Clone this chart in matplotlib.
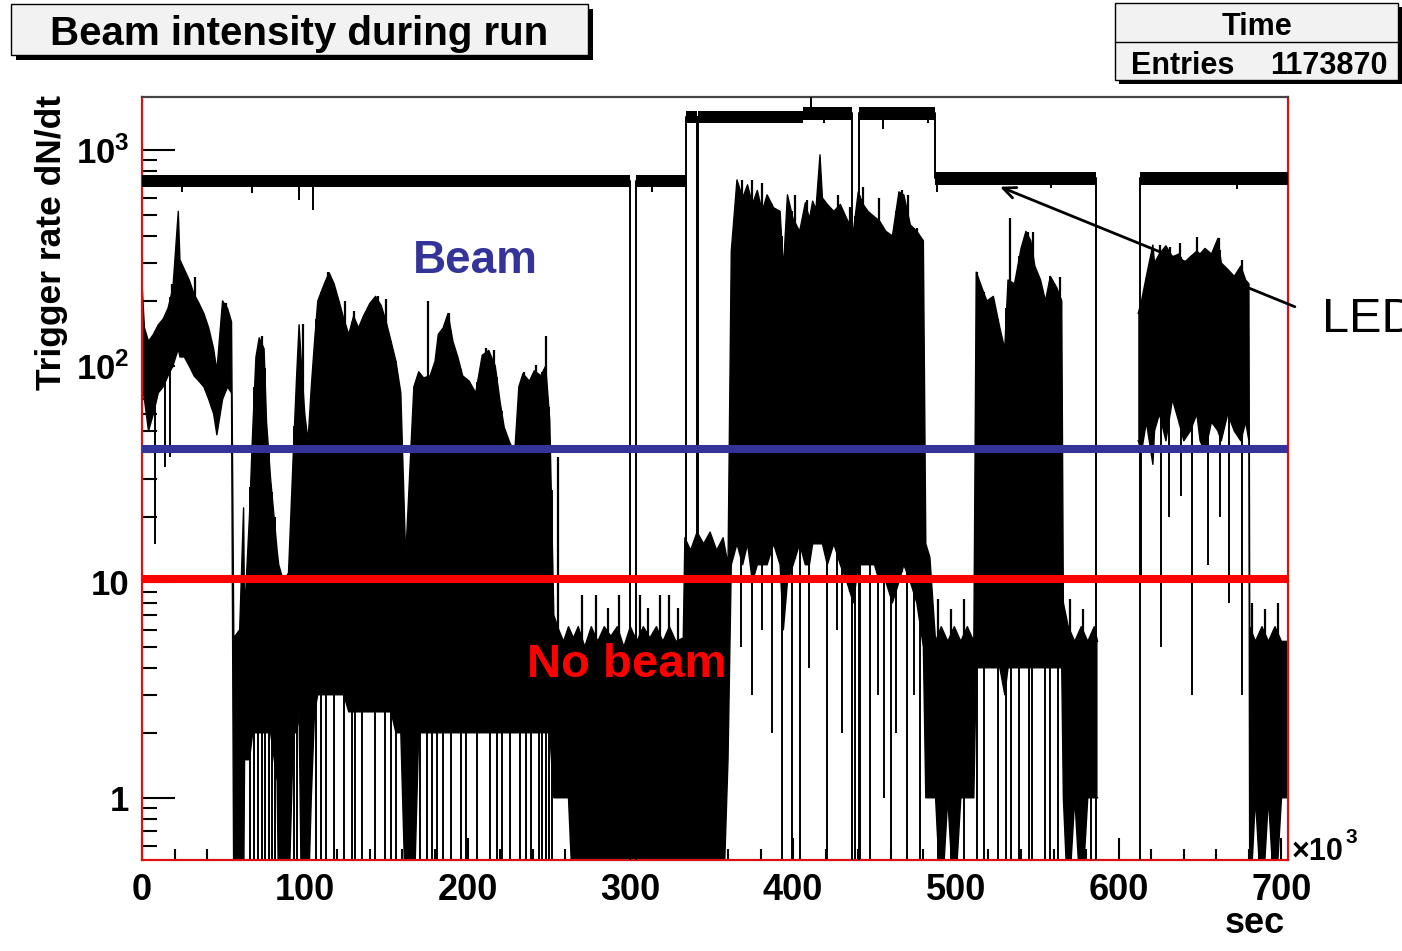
import numpy as np
import matplotlib
matplotlib.use("Agg")
import matplotlib.pyplot as plt
from matplotlib.patches import Rectangle
from matplotlib.lines import Line2D
from matplotlib.ticker import FixedLocator, FixedFormatter, MultipleLocator, LogLocator, NullFormatter

plt.rcParams["font.family"] = ["Liberation Sans", "DejaVu Sans"]
plt.rcParams["mathtext.fontset"] = "custom"
plt.rcParams["mathtext.rm"] = "Liberation Sans:bold"
plt.rcParams["mathtext.bf"] = "Liberation Sans:bold"
plt.rcParams["mathtext.it"] = "Liberation Sans:bold"

# ---------------------------------------------------------------- data
# time in units of 10^3 s, rates in triggers / s
X_MAX = 704.0
Y_MIN, Y_MAX = 0.515, 1760.0
EMPTY = 0.3          # empty bins (zero counts) fall below the log-axis floor
NAN = np.nan

# beam trigger rate: sample times with the max / min of the rate around each time
beam_x = [0, 1.5, 4, 7, 10, 13, 16, 19, 22.3, 23.3, 26, 29, 32, 35, 38, 41, 44, 46, 49.5, 52.5, 55,
          56.4, 60, 62.4, 63, 66, 68, 70, 72, 75, 76.5, 79, 83, 84, 87, 90, 93, 95, 96.5, 98, 100, 102, 104,
          106, 108, 112, 115, 118, 121, 124, 127, 130, 133, 136, 140, 143.5, 147, 150, 153, 156, 159,
          162, 167, 170, 173, 177, 180, 182, 185, 188, 191, 194, 197, 201, 205, 209, 213, 217, 220,
          222.5, 226, 229, 231.5, 234, 238, 241, 245, 248, 250.5, 253,
          256, 259, 262, 265, 268, 272, 276, 280, 284, 288, 292, 296, 300, 304, 308, 312, 316, 320,
          324, 328, 332.5,
          333.5, 337, 341, 345, 349, 353, 357, 360,
          362, 365.5, 369, 372, 375, 378, 381, 384, 388, 392, 394, 396.5, 400, 404, 407.5, 410, 412, 414,
          416.5, 418, 421, 425, 429, 433, 437, 440, 443, 446, 450, 453, 457, 461, 465, 468, 472, 476, 480,
          481.5, 484, 487.5, 491, 495, 499, 503, 507, 511,
          512.5, 516, 519, 523, 527, 530, 532, 536, 540, 543, 546, 548.5, 552, 555, 558, 562, 565,
          566, 569, 573, 577, 581, 585, 587, 587.5,
          612, 614, 617, 621, 622, 625, 629, 633, 637, 640, 644, 648, 650, 653, 657, 661, 663, 667, 671,
          675, 678, 680,
          680.5, 684, 688, 692, 696, 700, X_MAX]
beam_hi = [240, 150, 130, 140, 155, 165, 185, 230, 520, 310, 280, 250, 215, 195, 175, 150, 120, 95, 200, 185, 160,
           5.5, 6, 22, 7, 20, 50, 110, 135, 120, 55, 30, 14, 12, 10, 11, 40, 90, 155, 100, 60, 45, 80,
           130, 200, 240, 270, 240, 200, 165, 140, 170, 150, 170, 195, 210, 190, 160, 130, 105, 75,
           13, 80, 94, 88, 90, 105, 140, 150, 175, 130, 110, 90, 85, 75, 112, 118, 100, 68,
           52, 44, 40, 80, 92, 85, 95, 90, 100, 56, 7,
           6, 5.3, 6.2, 5.5, 6.2, 5.0, 6.2, 5.3, 6.2, 5.6, 6.2, 5.0, 6.2, 5.3, 6.2, 5.5, 6.2, 5.3,
           6.2, 5.3, 5.5,
           16, 14, 17, 15, 17, 14, 16, 12,
           340, 727, 600, 690, 560, 650, 520, 620, 540, 520, 280, 620, 480, 420, 570, 480, 580, 530,
           950, 600, 560, 520, 560, 480, 420, 640, 560, 520, 490, 470, 420, 400, 640, 620, 450, 420, 380,
           15, 13, 5.3, 6.2, 5.3, 6.2, 5.3, 6.2, 5.3,
           272, 230, 200, 210, 150, 120, 250, 240, 350, 420, 380, 290, 250, 200, 260, 230, 200,
           8, 6.2, 5.3, 6.2, 5.3, 6.2, 5.3, NAN,
           175, 200, 260, 363, 300, 330, 360, 320, 330, 300, 320, 340, 330, 350, 330, 390, 300, 280, 260,
           290, 250, 240,
           6.2, 5.3, 6.2, 5.3, 6.2, 5.3, 5.3]
beam_lo = [80, 70, 50, 60, 75, 80, 90, 100, 120, 110, 110, 100, 90, 85, 80, 70, 60, 48, 70, 80, 75,
           EMPTY, EMPTY, EMPTY, 1.5, 1.5, 2, 2, 2, 2, 2, 2, 1.2, EMPTY, EMPTY, EMPTY, 2, 2, 2.5, EMPTY, EMPTY, EMPTY, 1,
           2.5, 3, 3, 3, 3, 3, 3, 2.5, 2.5, 2.5, 2.5, 2.5, 2.5, 2.5, 2.5, 2.5, 2, 2,
           EMPTY, EMPTY, 2, 2, 2, 2, 2, 2, 2, 2, 2, 2, 2, 2, 2, 2, 2, 2,
           2, 2, 2, 2, 2, 2, 2, 2, 2, 2, 1,
           1, 1, 1, EMPTY, EMPTY, EMPTY, EMPTY, EMPTY, EMPTY, EMPTY, EMPTY, EMPTY, EMPTY, EMPTY, EMPTY,
           EMPTY, EMPTY, EMPTY, EMPTY, EMPTY, EMPTY,
           EMPTY, EMPTY, EMPTY, EMPTY, EMPTY, EMPTY, EMPTY, 1.5,
           12, 15, 12, 15, 10, 12, 12, 12, 15, 12, 6, 10, 12, 15, 12, 12, 15, 15,
           15, 15, 12, 15, 12, 10, 8, 12, 12, 12, 12, 10, 10, 8, 10, 12, 10, 8, 5,
           1, 1, 1, EMPTY, 1, EMPTY, 1, 1, 1,
           4, 4, 4, 4, 4, 3, 4, 4, 4, 4, 4, 4, 4, 4, 4, 4, 4,
           1, EMPTY, 1, EMPTY, 1, 1, 1, NAN,
           45, 40, 55, 35, 50, 60, 45, 70, 55, 45, 50, 60, 45, 40, 55, 50, 45, 60, 50,
           45, 55, 45,
           EMPTY, 1, EMPTY, 1, EMPTY, 1, 1]

# bins that drop to zero counts
zero_x = [66.5, 69, 71, 74, 75.5, 78, 80, 81.5, 93.5, 95, 107, 110, 113, 118, 124, 129, 131, 135,
          143, 149, 153, 156, 171, 175, 178, 181, 185, 190, 196, 199, 206, 214, 218, 221, 226, 232,
          236, 239, 244, 246, 248, 250, 252, 393, 399, 404, 421, 436, 438, 441, 447, 460, 470, 478,
          489, 497, 505, 513, 517, 526, 531, 534, 539, 545, 547, 555, 558, 563, 571, 583, 686, 694]

# single low bins below the band
low_x = [8, 14, 17.5, 368, 375, 381, 387, 410, 427, 430, 452, 456, 463, 474,
         614, 626, 631, 638, 645, 655, 662, 668, 676]
low_rate = [15, 34, 38, 5, 3, 6, 2, 4, 6, 2, 3, 1, 2, 3,
            10, 5, 20, 25, 3, 12, 20, 8, 3]

# single high bins above the band
high_x = [255.5, 533, 270, 279, 286, 293, 306, 311, 318, 324, 329,
          489, 497, 505, 570, 578, 682, 690, 698,
          18.5, 32.8, 51.4, 74, 98.6, 114.4, 125, 130.4, 144.7, 150.1, 175.8, 188.5,
          211.6, 216, 234.6, 242.3, 248.2,
          368.3, 374.5, 380.6, 401, 408.3, 427.7, 435, 443, 453, 466.6, 470.6, 475.8,
          512.7, 544.3, 547.4, 564,
          625.3, 631.5, 637.6, 647.8, 661.6, 675.5]
high_rate = [38, 484, 8.7, 8.7, 7.6, 8.7, 8.7, 7.6, 8.7, 8.7, 7.6,
             8.3, 7.5, 8.3, 8.3, 7.5, 8.0, 7.5, 8.0,
             240, 257, 195, 137, 156, 272, 199, 179, 210, 204, 199, 175,
             121, 119, 94, 101, 137,
             727, 727, 701, 620, 588, 620, 547, 676, 598, 653, 620, 435,
             273, 419, 419, 259,
             363, 357, 370, 397, 391, 310]

# LED pulser rate: bin edges and level
led_x = [0, 299.8, 303.2, 334.1, 334.4, 341.1, 341.5, 406.0, 410.8, 411.2, 436.3, 440.6, 487.1,
         585.8, 613.0, X_MAX]
led_rate = [720, EMPTY, 720, 15, 1420, 15, 1420, 1480, 3000, 1480, EMPTY, 1480, 740,
            EMPTY, 740, 740]

# short dips of the LED rate
led_dip_x = [24.5, 67.6, 96.5, 105, 313, 377, 419, 455, 483, 488.5, 558.7, 672.6]
led_dip_rate = [640, 630, 587, 527, 640, 1330, 1330, 1250, 1330, 640, 670, 660]

beam_cut = 41.3      # above: beam on
nobeam_cut = 10.3    # below: no beam
entries = 1173870


def step_arrays(edges, values):
    """Expand bin edges / contents into a stepped outline."""
    e = np.asarray(edges, float)
    v = np.asarray(values, float)
    xs = np.repeat(e, 2)[1:-1]
    vs = np.repeat(v[:-1], 2)
    return xs, vs


# ---------------------------------------------------------------- figure
W, H = 1402, 951
fig = plt.figure(figsize=(W / 100, H / 100), dpi=100)
fig.patch.set_facecolor("white")


def fx(px):
    return px / W


def fy(py):
    return 1 - py / H


ax = fig.add_axes([fx(142), fy(860), (1288 - 142) / W, (860 - 97) / H])
ax.set_yscale("log")
ax.set_xlim(0, X_MAX)
ax.set_ylim(Y_MIN, Y_MAX)

# beam rate envelope
bxa = np.array(beam_x, float)
hi_arr = np.array(beam_hi, float)
lo_arr = np.array(beam_lo, float)
ax.fill_between(bxa, lo_arr, hi_arr, color="black", lw=0, zorder=2)
ax.plot(bxa, hi_arr, color="black", lw=1.0, zorder=2)
ax.plot(bxa, lo_arr, color="black", lw=1.0, zorder=2)

ok = ~np.isnan(hi_arr)


def hi_at(x):
    return np.interp(x, bxa[ok], hi_arr[ok])


def lo_at(x):
    return np.interp(x, bxa[ok], lo_arr[ok])


# zero-count bins, single low / high bins
ax.vlines(zero_x, EMPTY, hi_at(np.array(zero_x)), color="black", lw=1.4, zorder=2)
ax.vlines(low_x, low_rate, hi_at(np.array(low_x)), color="black", lw=1.4, zorder=2)
ax.vlines(high_x, lo_at(np.array(high_x)), high_rate, color="black", lw=1.6, zorder=2)

# LED band
lx_, lr_ = step_arrays(led_x, led_rate)
ax.fill_between(lx_, lr_ * 0.935, lr_ * 1.065, color="black", lw=0, zorder=3)
ax.plot(lx_, lr_, color="black", lw=1.4, zorder=3)
ax.vlines(led_dip_x, led_dip_rate, np.interp(led_dip_x, lx_, lr_), color="black", lw=1.4, zorder=3)

# beam / no-beam thresholds
ax.axhline(beam_cut, color="#333399", lw=5.8, zorder=5)
ax.axhline(nobeam_cut, color="#ff0000", lw=5.8, zorder=5)

ax.text(204.5, 270, "Beam", color="#333399", fontsize=33, fontweight="bold",
        ha="center", va="baseline", zorder=6)
ax.text(297.9, 3.63, "No beam", color="#ff0000", fontsize=34, fontweight="bold",
        ha="center", va="baseline", zorder=6)

# LED annotation
ax.annotate("", xy=(527.0, 676), xytext=(708.2, 188), annotation_clip=False,
            arrowprops=dict(arrowstyle="->,head_length=0.9,head_width=0.4", lw=2.0,
                            color="black", shrinkA=0, shrinkB=0), zorder=7)
fig.text(fx(1322), fy(332), "LED", fontsize=35, ha="left", va="baseline", color="black")

# axes styling
for s in ax.spines.values():
    s.set_color("#dd1111")
    s.set_linewidth(1.6)
ax.spines["top"].set_color("#444444")

ax.set_xticks(np.arange(0, 701, 100))
ax.set_xticklabels([str(v) for v in range(0, 701, 100)])
ax.xaxis.set_minor_locator(MultipleLocator(20))
ax.yaxis.set_major_locator(FixedLocator([1, 10, 100, 1000]))
ax.yaxis.set_major_formatter(FixedFormatter(["1", "10", r"$10^{2}$", r"$10^{3}$"]))
ax.yaxis.set_minor_locator(LogLocator(base=10, subs=np.arange(2, 10)))
ax.yaxis.set_minor_formatter(NullFormatter())

ax.tick_params(axis="x", which="major", direction="in", length=16, width=1.5, color="black",
               labelsize=26, pad=9, top=False)
ax.tick_params(axis="x", which="minor", direction="in", length=8, width=1.5, color="black", top=False)
ax.tick_params(axis="y", which="major", direction="in", length=24, width=1.5, color="black",
               labelsize=25, pad=9, right=False)
ax.tick_params(axis="y", which="minor", direction="in", length=11, width=1.5, color="black", right=False)
for lab in ax.get_xticklabels() + ax.get_yticklabels():
    lab.set_fontweight("bold")

fig.text(fx(52), fy(95), "Trigger rate dN/dt", rotation=90, ha="center", va="top",
         fontsize=25.5, fontweight="bold")
fig.text(fx(1285), fy(933), "sec", ha="right", va="baseline", fontsize=26, fontweight="bold")
fig.text(fx(1292), fy(860), "\u00d710", ha="left", va="baseline", fontsize=22, fontweight="bold")
fig.text(fx(1345), fy(843), "3", ha="left", va="baseline", fontsize=15, fontweight="bold")

# title box
fig.patches.append(Rectangle((fx(16), fy(60)), 577 / W, 51 / H, transform=fig.transFigure,
                             facecolor="black", edgecolor="none", zorder=1))
fig.patches.append(Rectangle((fx(11), fy(55)), 577 / W, 51 / H, transform=fig.transFigure,
                             facecolor="#f2f2f2", edgecolor="black", lw=1.0, zorder=2))
fig.text(fx(299.5), fy(45), "Beam intensity during run", ha="center", va="baseline",
         fontsize=29, fontweight="bold", zorder=3)

# statistics box
fig.patches.append(Rectangle((fx(1119), fy(84)), 283 / W, 77 / H, transform=fig.transFigure,
                             facecolor="black", edgecolor="none", zorder=1))
fig.patches.append(Rectangle((fx(1115), fy(80)), 283 / W, 77 / H, transform=fig.transFigure,
                             facecolor="#f2f2f2", edgecolor="black", lw=1.0, zorder=2))
fig.lines.append(Line2D([fx(1115), fx(1398)], [fy(42), fy(42)], transform=fig.transFigure,
                        color="black", lw=1.0, zorder=3))
fig.text(fx(1257), fy(35), "Time", ha="center", va="baseline", fontsize=22, fontweight="bold", zorder=3)
fig.text(fx(1131), fy(74), "Entries", ha="left", va="baseline", fontsize=22, fontweight="bold", zorder=3)
fig.text(fx(1388), fy(74), str(entries), ha="right", va="baseline", fontsize=22, fontweight="bold", zorder=3)

fig.savefig("out.png", dpi=100, facecolor="white")
